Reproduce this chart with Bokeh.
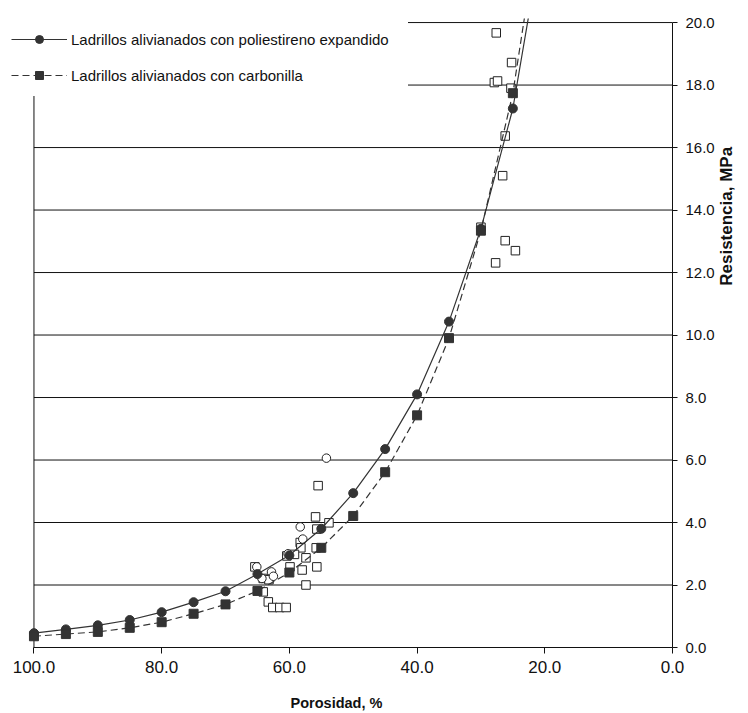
import math
from bokeh.plotting import figure
from bokeh.models import Range1d, FixedTicker, NumeralTickFormatter, Legend, LegendItem
from bokeh.embed import file_html
from bokeh.resources import INLINE

# ---- data ----
poli_x = [100, 95, 90, 85, 80, 75, 70, 65, 60, 55, 50, 45, 40, 35, 30, 25]
poli_y = [0.46, 0.58, 0.71, 0.88, 1.13, 1.45, 1.80, 2.35, 2.95, 3.80, 4.94, 6.35, 8.10, 10.43, 13.40, 17.25]
poli_top = (22.2, 20.6)   # where the fitted curve leaves the chart

carb_x = [100, 95, 90, 85, 80, 75, 70, 65, 60, 55, 50, 45, 40, 35, 30, 25]
carb_y = [0.36, 0.43, 0.50, 0.63, 0.81, 1.08, 1.38, 1.81, 2.40, 3.19, 4.21, 5.61, 7.43, 9.90, 13.34, 17.74]
carb_top = (22.85, 20.6)

open_sq_x = [55.9, 53.8, 55.7, 55.5, 58.3, 58.2, 55.8, 60.4, 59.2, 57.4, 59.9, 58.0, 55.7, 65.4,
             64.1, 63.2, 57.4, 64.1, 63.3, 62.6, 61.5, 60.5,
             27.6, 25.2, 27.9, 27.4, 25.3, 26.2, 26.6, 26.2, 24.6, 27.7, 30.0]
open_sq_y = [4.18, 3.99, 3.79, 5.18, 3.36, 3.19, 3.19, 2.93, 2.98, 2.87, 2.58, 2.48, 2.58, 2.58,
             2.21, 2.17, 2.00, 1.78, 1.46, 1.28, 1.28, 1.28,
             19.67, 18.72, 18.08, 18.13, 17.90, 16.37, 15.10, 13.02, 12.70, 12.31, 13.45]

open_ci_x = [54.2, 58.3, 57.9, 60.2, 62.8, 62.5, 64.3, 65.1]
open_ci_y = [6.06, 3.86, 3.47, 3.00, 2.42, 2.28, 2.21, 2.58]

x_ticks = [0, 20, 40, 60, 80, 100]
y_ticks = [0, 2, 4, 6, 8, 10, 12, 14, 16, 18, 20]

label_poli = "Ladrillos alivianados con poliestireno expandido"
label_carb = "Ladrillos alivianados con carbonilla"
x_title = "Porosidad, %"
y_title = "Resistencia, MPa"

# ---- figure ----
FONT = "Liberation Sans"
DARK = "#333333"
INK = "#111111"

p = figure(width=748, height=713, output_backend="svg", toolbar_location=None,
           x_range=Range1d(105.24, 0), y_range=Range1d(0, 20.13),
           y_axis_location="right",
           min_border_left=0, min_border_right=76, min_border_top=18, min_border_bottom=65)
p.outline_line_color = None
p.xgrid.visible = False
p.ygrid.visible = False
p.background_fill_color = "white"
p.border_fill_color = "white"

# grid lines and left frame line
grid_y = [t for t in y_ticks if t > 0]
p.segment(x0=[x_ticks[-1]] * len(grid_y), x1=[x_ticks[0]] * len(grid_y), y0=grid_y, y1=grid_y,
          line_color=INK, line_width=1)
p.segment(x0=[x_ticks[-1]], x1=[x_ticks[-1]], y0=[y_ticks[0]], y1=[20.13],
          line_color=INK, line_width=1)

# open data markers
p.scatter(open_sq_x, open_sq_y, marker="square", size=8.5, fill_color="white",
          line_color="#222222", line_width=1)
p.scatter(open_ci_x, open_ci_y, marker="circle", size=8.5, fill_color="white",
          line_color="#222222", line_width=1)

# curves
l1 = p.line(poli_x + [poli_top[0]], poli_y + [poli_top[1]], line_color=DARK, line_width=1.2)
l2 = p.line(carb_x + [carb_top[0]], carb_y + [carb_top[1]], line_color=DARK, line_width=1.2,
            line_dash="7 4")
m1 = p.scatter(poli_x, poli_y, marker="circle", size=9, fill_color=DARK, line_color=DARK)
m2 = p.scatter(carb_x, carb_y, marker="square", size=9, fill_color=DARK, line_color=DARK)

# axes
xa = p.xaxis[0]
xa.ticker = FixedTicker(ticks=x_ticks)
xa.formatter = NumeralTickFormatter(format="0.0")
xa.bounds = (0, 100)
xa.axis_label = x_title
xa.axis_label_text_font = FONT
xa.axis_label_text_font_style = "bold"
xa.axis_label_text_font_size = "14.5px"
xa.axis_label_text_color = INK
xa.axis_label_standoff = 19
xa.major_label_text_font = FONT
xa.major_label_text_font_size = "17px"
xa.major_label_text_color = INK
xa.major_label_standoff = 7
xa.major_tick_out = 6
xa.major_tick_in = 0
xa.minor_tick_line_color = None
xa.axis_line_color = INK
xa.major_tick_line_color = INK

ya = p.yaxis[0]
ya.ticker = FixedTicker(ticks=y_ticks)
ya.formatter = NumeralTickFormatter(format="0.0")
ya.bounds = (0, 20)
# the title sits above the middle of the axis in the original: lead it with no-break spaces
ya.axis_label = "\u00a0" * 10 + y_title
ya.axis_label_orientation = math.pi / 2
ya.axis_label_text_font = FONT
ya.axis_label_text_font_style = "bold"
ya.axis_label_text_font_size = "17px"
ya.axis_label_text_color = INK
ya.axis_label_standoff = 9
ya.major_label_text_font = FONT
ya.major_label_text_font_size = "15px"
ya.major_label_text_color = INK
ya.major_label_standoff = 8
ya.major_tick_out = 5
ya.major_tick_in = 0
ya.minor_tick_line_color = None
ya.axis_line_color = INK
ya.major_tick_line_color = INK

# legend
legend = Legend(items=[LegendItem(label=label_poli, renderers=[l1, m1]),
                       LegendItem(label=label_carb, renderers=[l2, m2])],
                location="top_left", margin=0, padding=10, spacing=16,
                glyph_width=56, glyph_height=20, label_height=20, label_standoff=4,
                label_width=326,
                label_text_font=FONT, label_text_font_size="15px", label_text_color=INK,
                background_fill_color="white", background_fill_alpha=1.0,
                border_line_color="white", border_line_width=1)
p.add_layout(legend, "center")

open("out.html", "w").write(file_html(p, INLINE))
